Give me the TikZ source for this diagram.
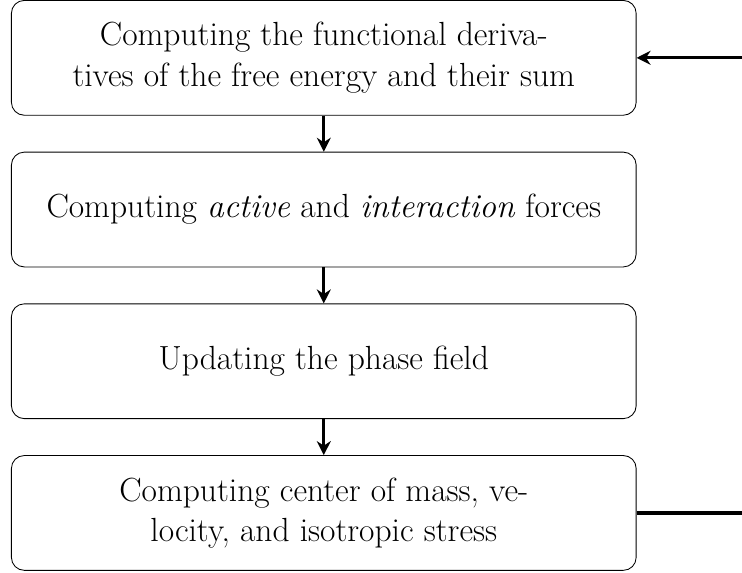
\documentclass[tikz,border=0pt]{standalone}
\usetikzlibrary{arrows.meta,positioning,calc}
\tikzset{>={Stealth[length=6.5pt,width=6.5pt]}}
\tikzset{
  StepBox/.style={
      draw, rounded corners=6pt, thin,
      minimum width=10.23cm, minimum height=1.88cm,
      align=center, font=\fontsize{15.6}{18.8}\selectfont
    },
  FlowArrow/.style={line width=1.5pt, ->}
}

\begin{document}
\begin{tikzpicture}[node distance=0.59cm]
  \node[StepBox] (derivs) {Computing the functional deriva-\\tives of the free energy and their sum};
  \node[StepBox, below=of derivs] (forces) {Computing \emph{active} and \emph{interaction} forces};
  \node[StepBox, below=of forces] (phase) {Updating the phase field};
  \node[StepBox, below=of phase] (stress) {Computing center of mass, ve-\\locity, and isotropic stress};

  \useasboundingbox ($(derivs.north west)+(-0.18cm,0)$) rectangle ($(stress.south west)+(11.97cm,-0.03cm)$);

  \draw[FlowArrow] (derivs) -- (forces);
  \draw[FlowArrow] (forces) -- (phase);
  \draw[FlowArrow] (phase) -- (stress);
  % feedback loop back to the top (runs off the page)
  \draw[FlowArrow] (stress.east) -- ++(3cm,0) |- (derivs.east);
\end{tikzpicture}
\end{document}
